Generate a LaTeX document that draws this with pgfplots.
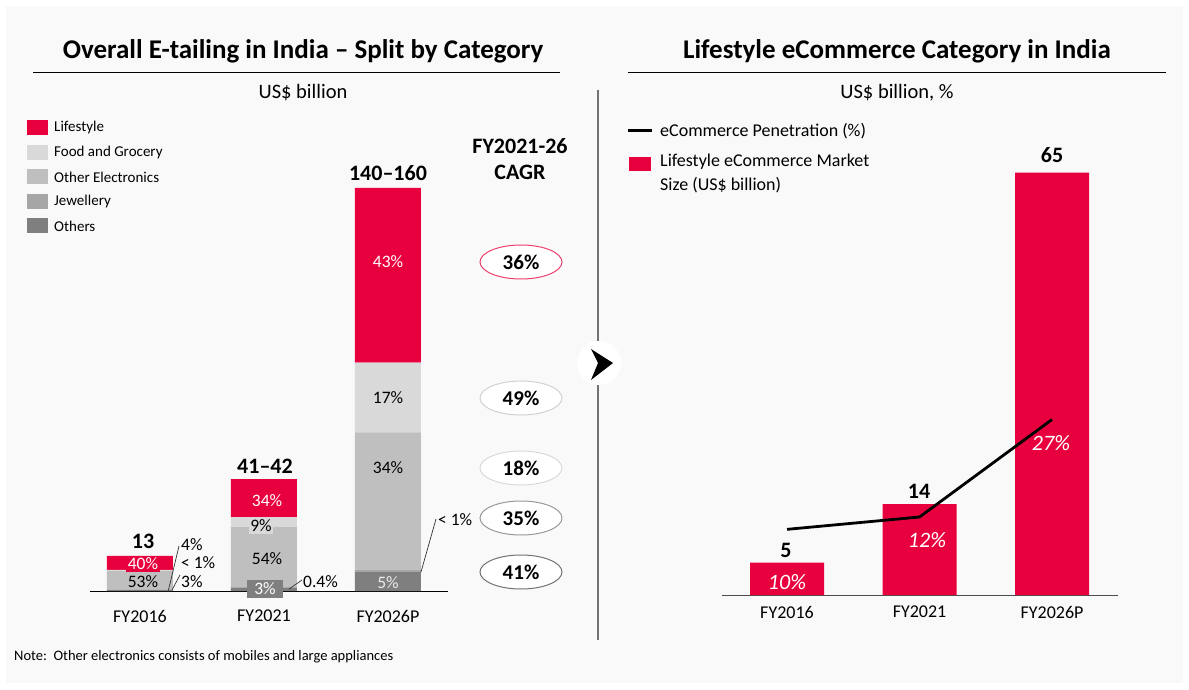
\documentclass[border=0pt]{standalone}
\usepackage{pgfplots}
\pgfplotsset{compat=1.18}
\usepackage{fontspec}
\setmainfont{Carlito}
\definecolor{lsred}{RGB}{232,0,62}
\definecolor{food}{RGB}{217,217,217}
\definecolor{elec}{RGB}{191,191,191}
\definecolor{jewel}{RGB}{166,166,166}
\definecolor{others}{RGB}{127,127,127}
\definecolor{panel}{RGB}{249,249,249}
\newcommand{\fs}[1]{\fontsize{#1}{#1}\selectfont}

\begin{document}
\begin{tikzpicture}[x=1pt,y=1pt]
\fill[white] (0,0) rectangle (1189,689);
\fill[panel] (6,6) rectangle (1183,683);

% ---------- left: stacked bars ----------
\begin{axis}[at={(90pt,98pt)}, anchor=south west, scale only axis,
  width=358pt, height=403pt,
  xmin=-0.4032, xmax=2.484, ymin=0, ymax=150,
  ybar stacked, bar width=66pt,
  axis x line=bottom, axis y line=none,
  x axis line style={-, black, line width=0.8pt},
  xtick={0,1,2}, xticklabels={FY2016,FY2021,FY2026P}, major tick length=0pt,
  xticklabel style={font=\fs{18}, anchor=center, yshift=-25pt},
  ytick=\empty, clip=false]
\addplot[fill=others, draw=none] coordinates {(0,0.39)(1,1.25)(2,7.0)};
\addplot[fill=jewel, draw=none] coordinates {(0,0.1)(1,0.17)(2,1.0)};
\addplot[fill=elec, draw=none] coordinates {(0,6.89)(1,22.4)(2,51)};
\addplot[fill=food, draw=none] coordinates {(0,0.52)(1,3.7)(2,26)};
\addplot[fill=lsred, draw=none] coordinates {(0,5.2)(1,14.1)(2,65)};
\end{axis}

% ---------- right: bars + line ----------
\begin{axis}[at={(722pt,94pt)}, anchor=south west, scale only axis,
  width=396pt, height=422.5pt,
  xmin=-0.4906, xmax=2.498, ymin=0, ymax=65,
  axis x line=bottom, axis y line=none,
  x axis line style={-, black!70, line width=0.8pt},
  xtick={0,1,2}, xticklabels={FY2016,FY2021,FY2026P}, major tick length=0pt,
  xticklabel style={font=\fs{18}, anchor=center, yshift=-17pt},
  ytick=\empty, clip=false]
\addplot[ybar, bar width=74pt, fill=lsred, draw=none] coordinates {(0,5)(1,14)(2,65)};
\addplot[sharp plot, black, line width=2.8pt, mark=none] coordinates {(0,10.1)(1,12)(2,27)};
\end{axis}

\begin{scope}[yshift=689pt, y=-1pt, every node/.style={inner sep=0pt}]
% titles
\node[font=\bfseries\fs{27}] at (303,51) {Overall E-tailing in India – Split by Category};
\draw[black, line width=0.8pt] (33,72) -- (560,72);
\node[font=\fs{20.5}] at (303,93) {US\$ billion};
\node[font=\bfseries\fs{27}] at (897,51) {Lifestyle eCommerce Category in India};
\draw[black, line width=0.8pt] (628,72) -- (1166,72);
\node[font=\fs{20.5}] at (897,93) {US\$ billion, \%};

% left legend
\fill[lsred] (27,120.5) rectangle (48,135.5);
\node[anchor=west, font=\fs{15}] at (54,128) {Lifestyle};
\fill[food] (27,145.5) rectangle (48,160.5);
\node[anchor=west, font=\fs{15}] at (54,153) {Food and Grocery};
\fill[elec] (27,169.5) rectangle (48,184.5);
\node[anchor=west, font=\fs{15}] at (54,177) {Other Electronics};
\fill[jewel] (27,194.5) rectangle (48,209.5);
\node[anchor=west, font=\fs{15}] at (54,202) {Jewellery};
\fill[others] (27,218.5) rectangle (48,233.5);
\node[anchor=west, font=\fs{15}] at (54,226) {Others};

% CAGR column
\node[font=\bfseries\fs{22}] at (520,146) {FY2021-26};
\node[font=\bfseries\fs{22}] at (520,172) {CAGR};
\draw[lsred!75, fill=white, line width=1pt] (521,262) ellipse [x radius=41, y radius=17];
\node[font=\bfseries\fs{21}] at (521,262) {36\%};
\draw[black!18, fill=white, line width=1pt] (521,398) ellipse [x radius=41, y radius=17];
\node[font=\bfseries\fs{21}] at (521,398) {49\%};
\draw[black!15, fill=white, line width=1pt] (521,468) ellipse [x radius=41, y radius=17];
\node[font=\bfseries\fs{21}] at (521,468) {18\%};
\draw[black!40, fill=white, line width=1pt] (521,518) ellipse [x radius=41, y radius=17];
\node[font=\bfseries\fs{21}] at (521,518) {35\%};
\draw[black!55, fill=white, line width=1pt] (521,572) ellipse [x radius=41, y radius=17];
\node[font=\bfseries\fs{21}] at (521,572) {41\%};

% bar totals
\node[font=\bfseries\fs{22}] at (143,541) {13};
\node[font=\bfseries\fs{22}] at (265,466) {41–42};
\node[font=\bfseries\fs{22}] at (388,173) {140–160};

% segment labels
\node[font=\fs{17.5}, fill=lsred, text=white, inner sep=1.5pt] at (143,564) {40\%};
\node[font=\fs{17.5}] at (143,582) {53\%};
\node[font=\fs{17.5}, text=white] at (267,501) {34\%};
\node[font=\fs{17.5}, fill=food, inner sep=1.5pt] at (261,526) {9\%};
\node[font=\fs{17.5}] at (267,559) {54\%};
\node[font=\fs{17.5}, fill=others, text=white, minimum width=36pt, minimum height=18pt] at (265,589) {3\%};
\node[font=\fs{17.5}, text=white] at (388,262) {43\%};
\node[font=\fs{17.5}] at (388,398) {17\%};
\node[font=\fs{17.5}] at (388,468) {34\%};
\node[font=\fs{17.5}, text=black!8] at (388,583) {5\%};

% callouts
\draw[black!80, line width=0.7pt] (168,592) -- (179,546);
\draw[black!80, line width=0.7pt] (172,590) -- (180,575);
\node[anchor=west, font=\fs{17.5}] at (181,545) {4\%};
\node[anchor=west, font=\fs{17.5}] at (181,563) {< 1\%};
\node[anchor=west, font=\fs{17.5}] at (181,582) {3\%};
\draw[black!80, line width=0.7pt] (289,589) -- (302,580);
\node[anchor=west, font=\fs{17.5}] at (303,582) {0.4\%};
\draw[black!80, line width=0.7pt] (421,572) -- (436,519);
\node[anchor=west, font=\fs{17.5}] at (438,520) {< 1\%};

% separator + arrow
\draw[black!55, line width=1.5pt] (598,90) -- (598,640);
\fill[white] (599,363) circle [radius=22];
\fill[black] (591,349) -- (613,363) -- (591,380) -- (598,363) -- cycle;

% right legend
\draw[black, line width=3pt] (628,131) -- (652,131);
\node[anchor=west, font=\fs{18}] at (660,131) {eCommerce Penetration (\%)};
\fill[lsred] (629,157) rectangle (651,171);
\node[anchor=west, font=\fs{18}] at (660,162) {Lifestyle eCommerce Market};
\node[anchor=west, font=\fs{18}] at (660,185) {Size (US\$ billion)};

% right labels
\node[font=\bfseries\fs{22}] at (786,550) {5};
\node[font=\bfseries\fs{22}] at (919,491) {14};
\node[font=\bfseries\fs{22}] at (1052,155) {65};
\node[font=\itshape\fs{22}, text=white] at (787,582) {10\%};
\node[font=\itshape\fs{22}, text=white] at (927,540) {12\%};
\node[font=\itshape\fs{22}, text=white] at (1051,443) {27\%};

% note
\node[anchor=west, font=\fs{14.5}] at (14,657) {Note:\ \ Other electronics consists of mobiles and large appliances};
\end{scope}
\end{tikzpicture}
\end{document}
